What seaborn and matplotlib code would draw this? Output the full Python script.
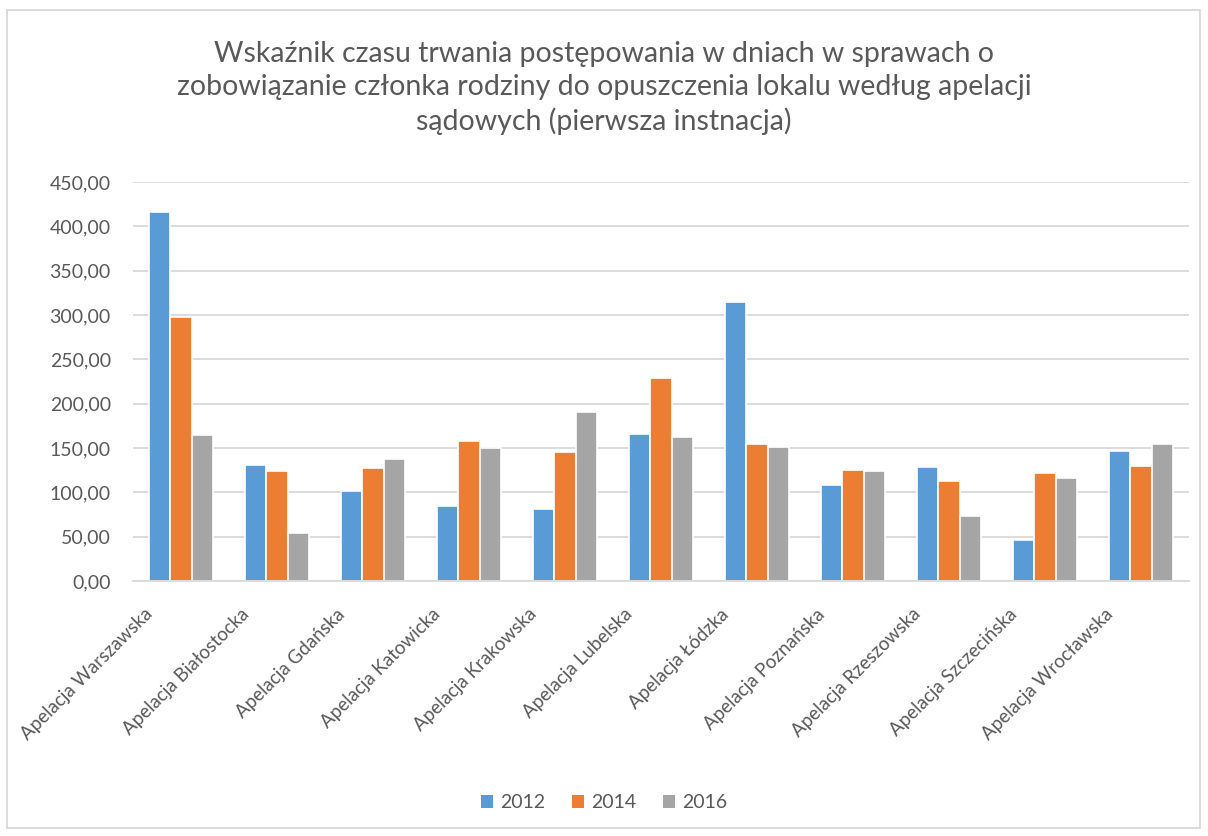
import matplotlib
matplotlib.use("Agg")
import matplotlib.pyplot as plt
import matplotlib.transforms as mtransforms
import seaborn as sns
import pandas as pd
from matplotlib.patches import Rectangle
from matplotlib.ticker import FuncFormatter, MultipleLocator

categories = ["Apelacja Warszawska", "Apelacja Białostocka", "Apelacja Gdańska",
              "Apelacja Katowicka", "Apelacja Krakowska", "Apelacja Lubelska",
              "Apelacja Łódzka", "Apelacja Poznańska", "Apelacja Rzeszowska",
              "Apelacja Szczecińska", "Apelacja Wrocławska"]
years = ["2012", "2014", "2016"]
v2012 = [416.5, 130.5, 101.2, 84.3, 81.3, 166.3, 314.1, 108.4, 128.3, 45.9, 146.4]
v2014 = [298.3, 123.8, 127.2, 158.4, 145.6, 229.1, 155.0, 124.9, 113.2, 121.9, 129.4]
v2016 = [165.2, 54.2, 137.3, 150.5, 191.1, 162.2, 150.9, 123.8, 73.0, 115.9, 154.3]
colors = ["#5B9BD5", "#ED7D31", "#A5A5A5"]
title = ("Wskaźnik czasu trwania postępowania w dniach w sprawach o\n"
         "zobowiązanie członka rodziny do opuszczenia lokalu według apelacji\n"
         "sądowych (pierwsza instnacja)")

df = pd.DataFrame({
    "Apelacja": categories * 3,
    "Rok": sum([[y] * len(categories) for y in years], []),
    "Wartość": v2012 + v2014 + v2016,
})

sns.set_theme(style="white")
plt.rcParams['font.family'] = ['Lato', 'DejaVu Sans']
txt = "#595959"
grid = "#D9D9D9"

fig = plt.figure(figsize=(12.08, 8.36), dpi=100)
ax = fig.add_axes([133/1208, 1 - 581/836, (1189-133)/1208, (581-182)/836])

sns.barplot(data=df, x="Apelacja", y="Wartość", hue="Rok", palette=colors,
            width=0.66, edgecolor="white", linewidth=1.2, saturation=1,
            ax=ax, legend=True)

ax.set_ylim(0, 450)
ax.yaxis.set_major_locator(MultipleLocator(50))
ax.yaxis.set_major_formatter(FuncFormatter(lambda v, p: f"{v:.2f}".replace(".", ",")))
ax.grid(axis="y", color=grid, linewidth=1.3)
ax.set_axisbelow(True)
for s in ["top", "right", "left"]:
    ax.spines[s].set_visible(False)
ax.spines["bottom"].set_color(grid)
ax.spines["bottom"].set_linewidth(1.3)
ax.set_xlabel("")
ax.set_ylabel("")
ax.tick_params(axis="y", length=0, colors=txt, labelsize=14, pad=16)
ax.tick_params(axis="x", length=0, colors=txt, labelsize=13.5, pad=4)
ax.set_xlim(-0.5, len(categories) - 0.5)
offset = mtransforms.ScaledTranslation(-0.31, -0.25, fig.dpi_scale_trans)
for lbl in ax.get_xticklabels():
    lbl.set_rotation(45)
    lbl.set_ha("right")
    lbl.set_va("center")
    lbl.set_rotation_mode("anchor")
    lbl.set_color(txt)
    lbl.set_transform(lbl.get_transform() + offset)

leg = ax.legend(loc="center", bbox_to_anchor=(0.5, (836 - 803) / 836), bbox_transform=fig.transFigure,
                ncol=3, frameon=False, fontsize=14, handlelength=0.62, handleheight=0.62,
                handletextpad=0.35, columnspacing=1.4)
for t in leg.get_texts():
    t.set_color(txt)
for h in leg.legend_handles:
    h.set_edgecolor("none")
    h.set_linewidth(0)

fig.text(0.5, 1 - 88/836, title, ha="center", va="center", fontsize=20.5, color=txt,
         linespacing=1.32)

fig.patches.append(Rectangle((7/1208, 1 - 828/836), (1200-7)/1208, (828-10)/836,
                             transform=fig.transFigure, fill=False, edgecolor=grid, linewidth=1.3))

fig.savefig("out.png", dpi=100, facecolor="white")
